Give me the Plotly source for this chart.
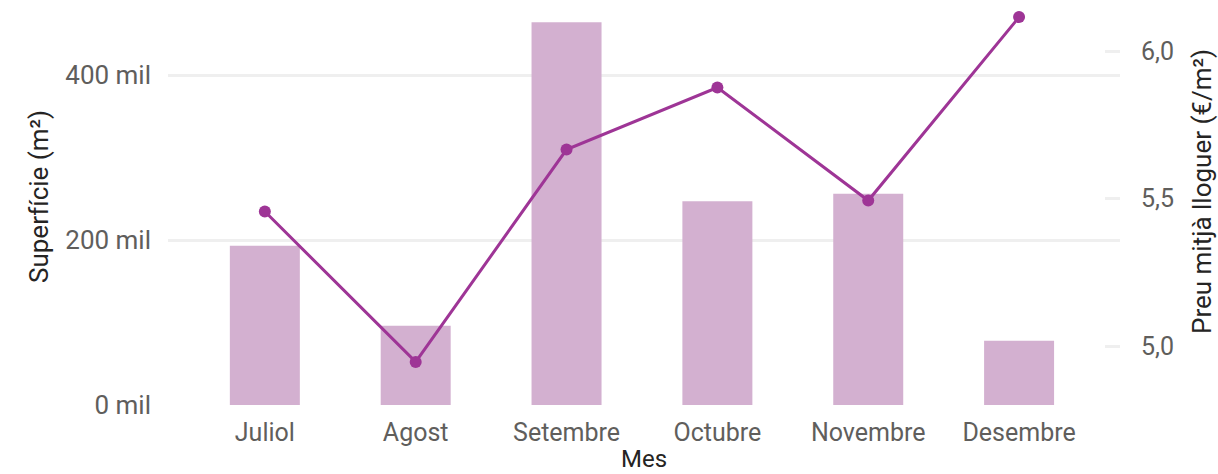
import plotly.graph_objects as go

mesos = ["Juliol", "Agost", "Setembre", "Octubre", "Novembre", "Desembre"]
superficie = [193000, 96000, 464000, 247000, 256000, 78000]
preu = [5.456, 4.946, 5.666, 5.876, 5.493, 6.115]

left_ticks = [0, 200000, 400000]
left_labels = ["0 mil", "200 mil", "400 mil"]
right_ticks = [5.0, 5.5, 6.0]
right_labels = ["5,0", "5,5", "6,0"]

FONT = "Roboto, sans-serif"
TICKC = "#605E5C"
TITLEC = "#252423"

W, H = 1218, 474
L, R, T, B = 168, 98, 10, 69
pw, ph = W - L - R, H - T - B


def px(xp):
    return (xp - L) / pw


def py(yp):
    return (H - B - yp) / ph


fig = go.Figure()
fig.add_trace(go.Bar(x=mesos, y=superficie, marker_color="#D3B0D0",
                     marker_line_width=0, name="Superfície", yaxis="y"))
fig.add_trace(go.Scatter(x=mesos, y=preu, mode="lines+markers",
                         line=dict(color="#9E3596", width=3),
                         marker=dict(color="#9E3596", size=12),
                         name="Preu", yaxis="y2"))

fig.update_layout(
    width=W, height=H,
    margin=dict(l=L, r=R, t=T, b=B, autoexpand=False),
    paper_bgcolor="white", plot_bgcolor="white",
    showlegend=False,
    bargap=0.536,
    font=dict(family=FONT, size=24, color=TICKC),
    xaxis=dict(range=[-0.642, 5.669], showgrid=False, showline=False,
               ticks="", automargin=False, ticklabelstandoff=10,
               tickfont=dict(size=25, color=TICKC)),
    yaxis=dict(range=[0, 478800], tickvals=left_ticks, ticktext=left_labels,
               showgrid=True, gridcolor="#EFEFEF", gridwidth=3,
               zeroline=False, showline=False, ticks="", automargin=False,
               ticklabelstandoff=16,
               tickfont=dict(size=26, color=TICKC)),
    yaxis2=dict(range=[4.8, 6.139], overlaying="y", side="right",
                tickvals=right_ticks, ticktext=right_labels,
                showgrid=False, zeroline=False, showline=False,
                ticks="inside", ticklen=15, tickwidth=3, tickcolor="#EFEFEF",
                automargin=False, ticklabelstandoff=20,
                tickfont=dict(size=25, color=TICKC)),
    annotations=[
        dict(text="Mes", x=px(644), y=py(459), xref="paper", yref="paper",
             xanchor="center", yanchor="middle", showarrow=False,
             font=dict(size=24, color=TITLEC)),
        dict(text="Superfície (m²)", x=px(39), y=py(197), xref="paper", yref="paper",
             xanchor="center", yanchor="middle", textangle=-90, showarrow=False,
             font=dict(size=26, color=TITLEC)),
        dict(text="Preu mitjà lloguer (€/m²)", x=px(1202), y=py(192), xref="paper", yref="paper",
             xanchor="center", yanchor="middle", textangle=-90, showarrow=False,
             font=dict(size=26, color=TITLEC)),
    ],
)

fig.write_html(
    "out.html",
    config={"displayModeBar": False},
    post_script="document.body.style.margin='0';document.body.style.overflow='hidden';",
)
